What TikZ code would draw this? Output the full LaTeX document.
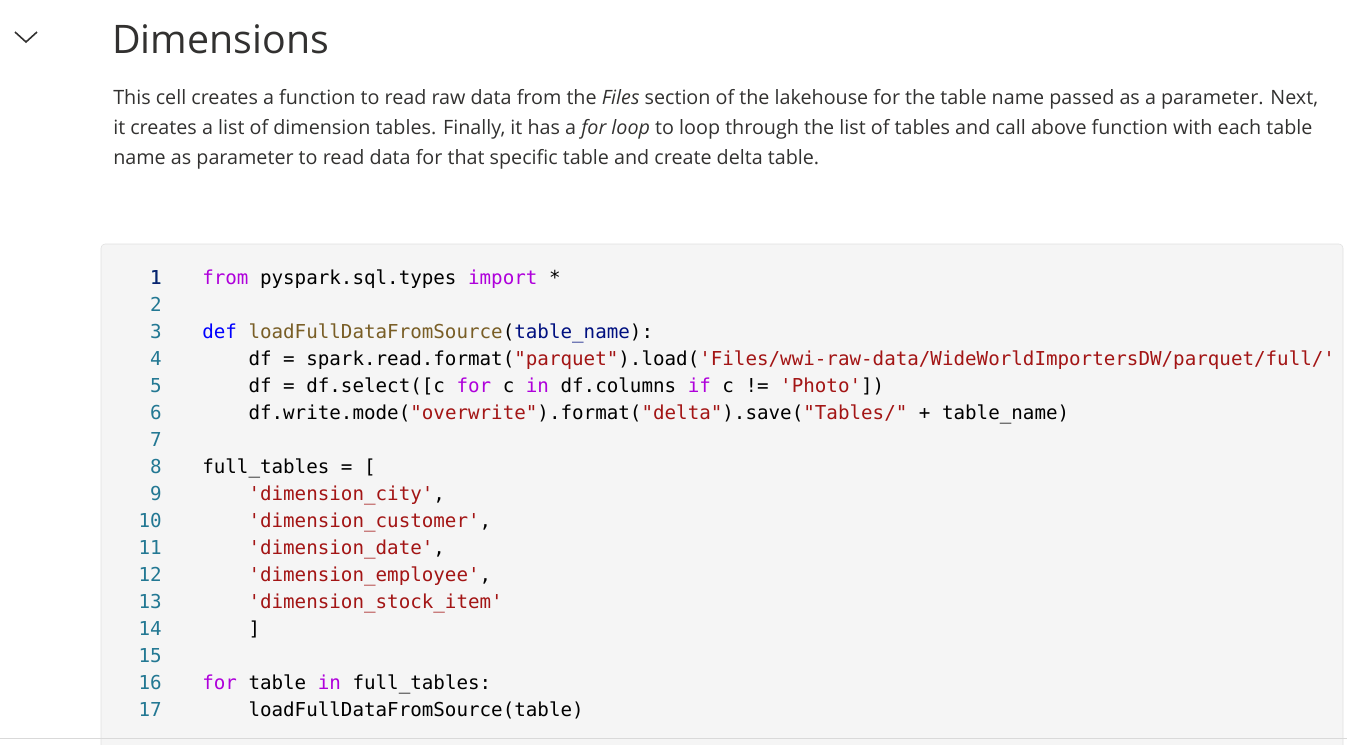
\documentclass[tikz,border=0pt]{standalone}
\usepackage{fontspec}
\setmainfont{Open Sans}
\setmonofont{DejaVu Sans Mono}
\definecolor{textgray}{HTML}{323130}
\definecolor{lnum}{HTML}{237893}
\definecolor{lnumact}{HTML}{0B216F}
\definecolor{kwpurple}{HTML}{AF00DB}
\definecolor{kwblue}{HTML}{0000FF}
\definecolor{fnbrown}{HTML}{795E26}
\definecolor{varblue}{HTML}{001080}
\definecolor{strred}{HTML}{A31515}
\newcommand{\ckw}[1]{\textcolor{kwpurple}{#1}}
\newcommand{\cdef}[1]{\textcolor{kwblue}{#1}}
\newcommand{\cfn}[1]{\textcolor{fnbrown}{#1}}
\newcommand{\cvar}[1]{\textcolor{varblue}{#1}}
\newcommand{\cstr}[1]{\textcolor{strred}{#1}}
\newcommand{\us}{\char`\_}
\begin{document}
\begin{tikzpicture}[x=0.75pt,y=-0.75pt]
  \tikzset{para/.style = {anchor=base west,inner sep=0pt,text=textgray,font=\fontsize{14.8}{18}\selectfont}}
  \tikzset{codeline/.style = {anchor=base west,inner sep=0pt,font=\ttfamily\fontsize{14.4}{17}\selectfont}}
  \tikzset{numline/.style = {anchor=base east,inner sep=0pt,text=lnum,font=\ttfamily\fontsize{14.4}{17}\selectfont}}

\useasboundingbox (0,0) rectangle (1347,744);

% heading
\draw[textgray,line width=1.2pt] (15,32) -- (26,42) -- (37,32);
\node[anchor=base west,inner sep=0pt,text=textgray,font=\fontsize{29.5}{36}\selectfont] (title) at (112,53) {Dimensions};

\node[para] (p1) at (113,104) {This cell creates a function to read raw data from the \textit{Files} section of the lakehouse for the table name passed as a parameter. Next,};
\node[para] (p2) at (113,134) {it creates a list of dimension tables. Finally, it has a \textit{for loop} to loop through the list of tables and call above function with each table};
\node[para] (p3) at (113,164) {name as parameter to read data for that specific table and create delta table.};

% code cell
\draw[draw=black!12,fill=black!4,rounded corners=3pt] (101,244) rectangle (1343,760);
\draw[black!15] (0,738) -- (1347,738);

\foreach \n in {1,...,17}
  \node[numline] (n\n) at (162,{284+27*(\n-1)}) {\n};
\node[numline,text=lnumact] at (n1.base east) {1};

\node[codeline] (c1) at (202,284) {\ckw{from} pyspark.sql.types \ckw{import} *};
\node[codeline] (c3) at (202,338) {\cdef{def} \cfn{loadFullDataFromSource}(\cvar{table\us name}):};
\node[codeline] (c4) at (202,365) {\ \ \ \ df = spark.read.format(\cstr{"parquet"}).load(\cstr{'Files/wwi-raw-data/WideWorldImportersDW/parquet/full/'}};
\node[codeline] (c5) at (202,392) {\ \ \ \ df = df.select([c \ckw{for} c \ckw{in} df.columns \ckw{if} c != \cstr{'Photo'}])};
\node[codeline] (c6) at (202,419) {\ \ \ \ df.write.mode(\cstr{"overwrite"}).format(\cstr{"delta"}).save(\cstr{"Tables/"} + table\us name)};
\node[codeline] (c8) at (202,473) {full\us tables = [};
\node[codeline] (c9) at (202,500) {\ \ \ \ \cstr{'dimension\us city'},};
\node[codeline] (c10) at (202,527) {\ \ \ \ \cstr{'dimension\us customer'},};
\node[codeline] (c11) at (202,554) {\ \ \ \ \cstr{'dimension\us date'},};
\node[codeline] (c12) at (202,581) {\ \ \ \ \cstr{'dimension\us employee'},};
\node[codeline] (c13) at (202,608) {\ \ \ \ \cstr{'dimension\us stock\us item'}};
\node[codeline] (c14) at (202,635) {\ \ \ \ ]};
\node[codeline] (c16) at (202,689) {\ckw{for} table \ckw{in} full\us tables:};
\node[codeline] (c17) at (202,716) {\ \ \ \ loadFullDataFromSource(table)};
\end{tikzpicture}
\end{document}
